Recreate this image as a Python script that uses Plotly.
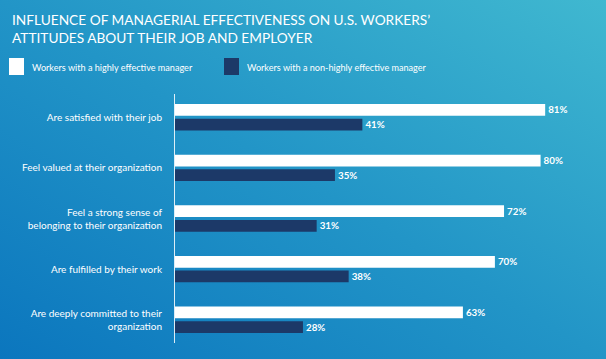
import base64
import plotly.graph_objects as go

categories = [
    "Are satisfied with their job",
    "Feel valued at their organization",
    "Feel a strong sense of<br>belonging to their organization",
    "Are fulfilled by their work",
    "Are deeply committed to their<br>organization",
]
highly_effective = [81, 80, 72, 70, 63]
non_highly_effective = [41, 35, 31, 38, 28]
series_names = ["Workers with a highly effective manager",
                "Workers with a non-highly effective manager"]
title_lines = ["INFLUENCE OF MANAGERIAL EFFECTIVENESS ON U.S. WORKERS’",
               "ATTITUDES ABOUT THEIR JOB AND EMPLOYER"]

WHITE = "#ffffff"
NAVY = "#1c3968"
FONT = "Lato, 'Open Sans', sans-serif"

W, H = 606, 359
L, T, B = 175, 94, 16
px_per_pct = 4.57
x_max = (W - L) / px_per_pct
plot_w, plot_h = W - L, H - T - B


def px_to_paper_x(px):
    return (px - L) / plot_w


def px_to_paper_y(py):
    return (H - B - py) / plot_h


svg = f'''<svg xmlns="http://www.w3.org/2000/svg" width="{W}" height="{H}" viewBox="0 0 {W} {H}" preserveAspectRatio="none">
<defs><linearGradient id="g" x1="0" y1="1" x2="1" y2="0">
<stop offset="0" stop-color="#0b76be"/>
<stop offset="0.5" stop-color="#2295c7"/>
<stop offset="1" stop-color="#40b8d0"/>
</linearGradient></defs>
<rect width="{W}" height="{H}" fill="url(#g)"/></svg>'''
bg_src = "data:image/svg+xml;base64," + base64.b64encode(svg.encode()).decode()

fig = go.Figure()
label_font = dict(color=WHITE, size=12.5, family=FONT, weight="bold")
fig.add_trace(go.Bar(
    y=categories, x=highly_effective, orientation="h", name=series_names[0],
    marker=dict(color=WHITE, line=dict(width=0)),
    text=[f"{v}%" for v in highly_effective], textposition="outside",
    textfont=label_font, cliponaxis=False, hoverinfo="skip",
))
fig.add_trace(go.Bar(
    y=categories, x=non_highly_effective, orientation="h", name=series_names[1],
    marker=dict(color=NAVY, line=dict(width=0)),
    text=[f"{v}%" for v in non_highly_effective], textposition="outside",
    textfont=label_font, cliponaxis=False, hoverinfo="skip",
))

annotations = [
    dict(text="<br>".join(title_lines), xref="paper", yref="paper",
         x=px_to_paper_x(10), y=px_to_paper_y(9),
         showarrow=False, align="left", xanchor="left", yanchor="top",
         font=dict(size=13.7, color=WHITE, family=FONT)),
]
shapes = []
legend_items = [(9, series_names[0], WHITE), (224, series_names[1], NAVY)]
for x0, name, col in legend_items:
    shapes.append(dict(type="rect", xref="paper", yref="paper",
                       x0=px_to_paper_x(x0), x1=px_to_paper_x(x0 + 15),
                       y0=px_to_paper_y(75), y1=px_to_paper_y(58),
                       fillcolor=col, line=dict(width=0), layer="above"))
    annotations.append(dict(text=name, xref="paper", yref="paper",
                            x=px_to_paper_x(x0 + 21), y=px_to_paper_y(67),
                            xanchor="left", yanchor="middle", showarrow=False,
                            font=dict(size=9.1, color=WHITE, family=FONT)))

fig.update_layout(
    width=W, height=H,
    margin=dict(l=L, r=0, t=T, b=B, pad=0),
    paper_bgcolor="rgba(0,0,0,0)", plot_bgcolor="rgba(0,0,0,0)",
    barmode="group", bargap=0.42, bargroupgap=0.2,
    showlegend=False,
    font=dict(family=FONT, color=WHITE),
    images=[dict(source=bg_src, xref="paper", yref="paper",
                 x=-L / plot_w, y=1 + T / plot_h,
                 sizex=W / plot_w, sizey=H / plot_h,
                 xanchor="left", yanchor="top", sizing="stretch",
                 layer="below")],
    shapes=shapes,
    annotations=annotations,
)

fig.update_xaxes(range=[0, x_max], visible=False, fixedrange=True)
fig.update_yaxes(
    range=[4.46, -0.46], showgrid=False, zeroline=False, fixedrange=True,
    showline=True, linecolor="rgba(255,255,255,0.85)", linewidth=1,
    ticks="", ticklabelstandoff=10,
    tickfont=dict(size=10, color=WHITE, family=FONT),
)

fig.write_html(
    "out.html",
    config={"displayModeBar": False, "staticPlot": True},
    post_script="document.body.style.margin='0';document.body.style.background='#2295c7';",
)
